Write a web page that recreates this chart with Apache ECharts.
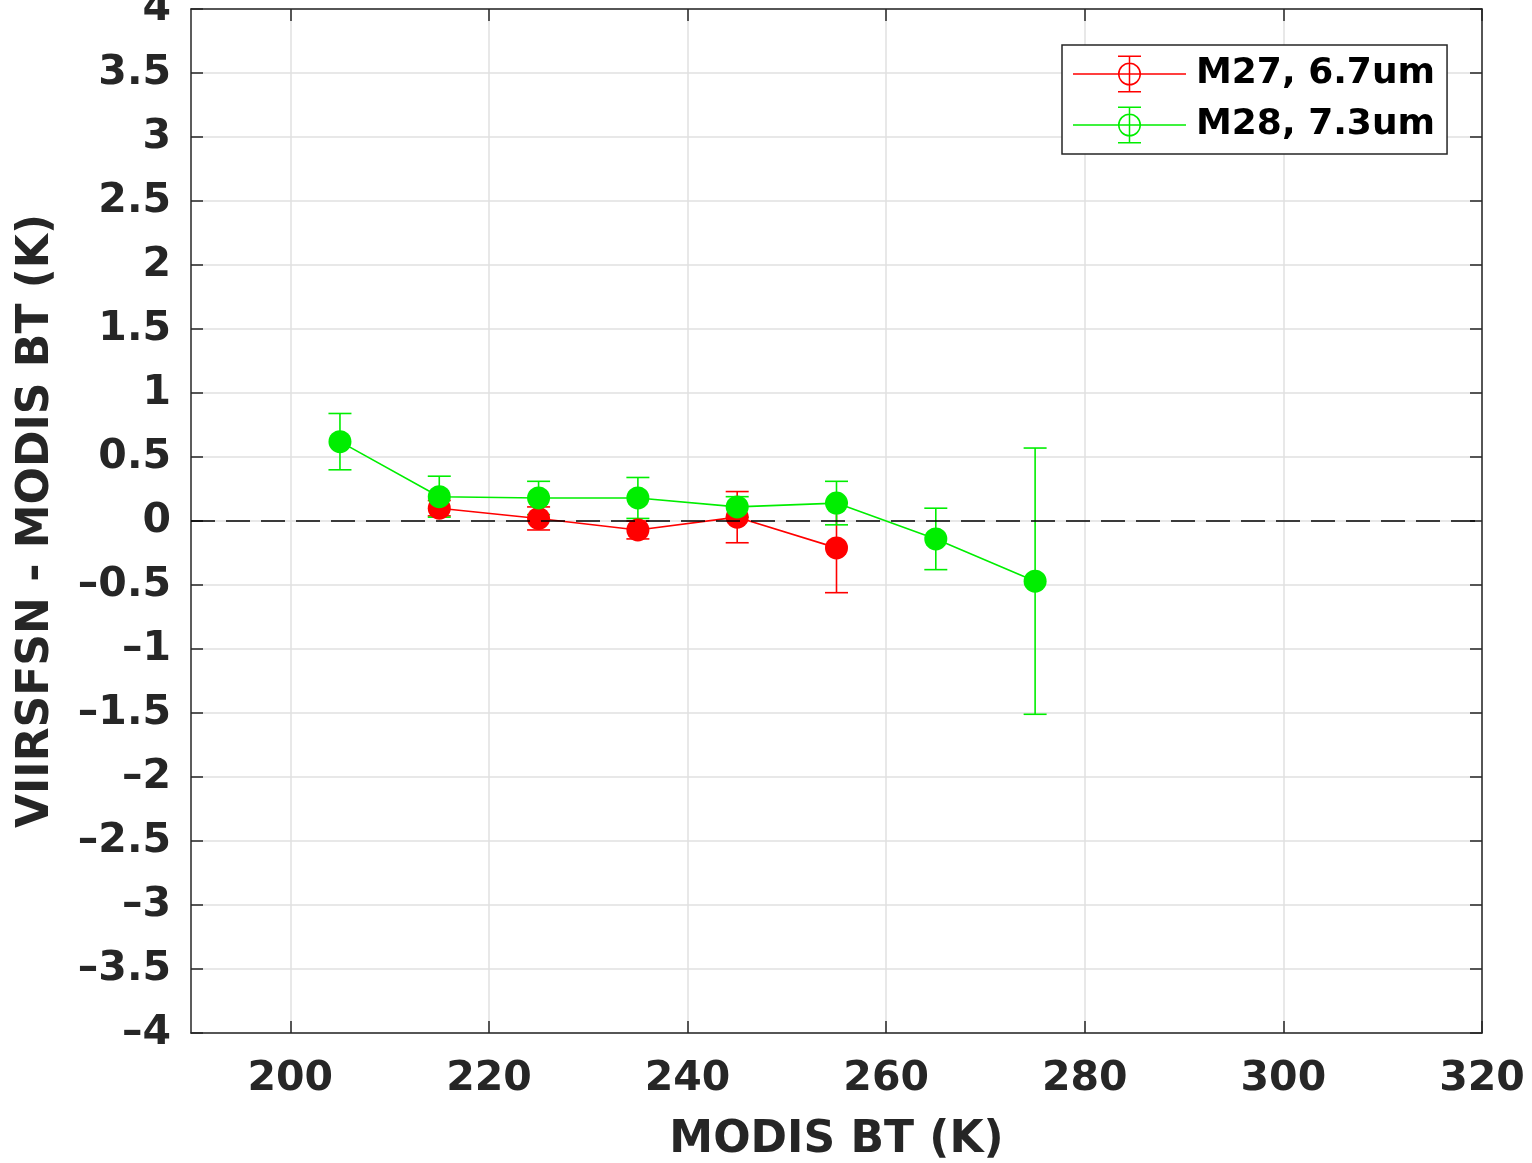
<!DOCTYPE html>
<html>
<head>
<meta charset="utf-8">
<script src="https://cdn.jsdelivr.net/npm/echarts@6/dist/echarts.min.js"></script>
<style>
  html, body { margin: 0; padding: 0; background: #fff; }
  #chart { width: 1532px; height: 1163px; }
</style>
</head>
<body>
<div id="chart"></div>
<script>
// M27 (6.7um) and M28 (7.3um): mean difference and error bar half-width per BT bin
const m27X = [215, 225, 235, 245, 255]
const m27Mean = [0.10, 0.02, -0.07, 0.03, -0.21]
const m27Err = [0.06, 0.09, 0.07, 0.20, 0.35]

const m28X = [205, 215, 225, 235, 245, 255, 265, 275]
const m28Mean = [0.62, 0.19, 0.18, 0.18, 0.11, 0.14, -0.14, -0.47]
const m28Err = [0.22, 0.16, 0.13, 0.16, 0.08, 0.17, 0.24, 1.04]

const xTicks = [200, 220, 240, 260, 280, 300, 320]
const seriesNames = ['M27, 6.7um', 'M28, 7.3um']
const colors = ['#ff0000', '#00ee00']

const FONT = '"DejaVu Sans", sans-serif'
const AXIS_COLOR = '#262626'

// legend icon: line + open circle + error bar
const legendIcon = 'path://M0,17.75H113V19.25H0Z M55.75,0H57.25V37H55.75Z M45,0H68V1.5H45Z M45,35.5H68V37H45Z ' +
  'M68,18.5A11.5,11.5 0 1,1 45,18.5A11.5,11.5 0 1,1 68,18.5Z M66.5,18.5A10,10 0 1,0 46.5,18.5A10,10 0 1,0 66.5,18.5Z'

function points(xs, ys) {
  return xs.map((x, i) => [x, ys[i]])
}
function errRows(xs, ys, es) {
  return xs.map((x, i) => [x, ys[i] - es[i], ys[i] + es[i]])
}

function errorBarSeries(name, color, rows) {
  return {
    name,
    type: 'custom',
    data: rows,
    silent: true,
    itemStyle: { color },
    renderItem(params, api) {
      const lo = api.coord([api.value(0), api.value(1)])
      const hi = api.coord([api.value(0), api.value(2)])
      const w = 11.5
      const style = { stroke: color, lineWidth: 1.6, fill: null }
      return {
        type: 'group',
        children: [
          { type: 'line', shape: { x1: lo[0], y1: lo[1], x2: hi[0], y2: hi[1] }, style },
          { type: 'line', shape: { x1: lo[0] - w, y1: lo[1], x2: lo[0] + w, y2: lo[1] }, style },
          { type: 'line', shape: { x1: hi[0] - w, y1: hi[1], x2: hi[0] + w, y2: hi[1] }, style }
        ]
      }
    }
  }
}

function lineSeries(name, color, data) {
  return {
    name,
    type: 'line',
    data,
    symbol: 'circle',
    symbolSize: 23,
    lineStyle: { color, width: 1.6 },
    itemStyle: { color },
    silent: true
  }
}

const chart = echarts.init(document.getElementById('chart'))

// MATLAB-style short minus
const minus = v => String(v).replace('-', '\u2013')

const option = {
  backgroundColor: '#fff',
  animation: false,
  textStyle: { fontFamily: FONT },
  grid: { left: 191, right: 50, top: 9, bottom: 130, outerBoundsMode: 'none' },
  legend: {
    data: seriesNames.map(n => ({ name: n, icon: legendIcon })),
    orient: 'vertical',
    left: 1062,
    top: 45,
    padding: [10.5, 12, 10.5, 11],
    itemWidth: 113,
    itemHeight: 37,
    itemGap: 14,
    backgroundColor: '#fff',
    borderColor: AXIS_COLOR,
    borderWidth: 1.5,
    borderRadius: 0,
    selectedMode: false,
    itemStyle: { borderWidth: 0 },
    textStyle: { fontFamily: FONT, fontSize: 36, fontWeight: 'bold', color: '#000', padding: [6, 0, 0, 5] }
  },
  xAxis: [
    {
      type: 'value',
      min: 190,
      max: 320,
      name: 'MODIS BT (K)',
      nameLocation: 'middle',
      nameGap: 86,
      nameTextStyle: { fontFamily: FONT, fontSize: 44, fontWeight: 'bold', color: AXIS_COLOR },
      axisLine: { show: true, onZero: false, lineStyle: { color: AXIS_COLOR, width: 1.5 } },
      axisTick: { show: true, inside: true, length: 12, customValues: xTicks, lineStyle: { color: AXIS_COLOR, width: 1.5 } },
      axisLabel: { customValues: xTicks, margin: 26, fontFamily: FONT, fontSize: 41, fontWeight: 'bold', color: AXIS_COLOR },
      splitLine: { show: true, lineStyle: { color: '#e0e0e0', width: 1.5 } }
    },
    {
      type: 'value',
      position: 'top',
      min: 190,
      max: 320,
      axisLine: { show: true, onZero: false, lineStyle: { color: AXIS_COLOR, width: 1.5 } },
      axisTick: { show: true, inside: true, length: 12, customValues: xTicks, lineStyle: { color: AXIS_COLOR, width: 1.5 } },
      axisLabel: { show: false },
      splitLine: { show: false }
    }
  ],
  yAxis: [
    {
      type: 'value',
      min: -4,
      max: 4,
      interval: 0.5,
      name: 'VIIRSFSN - MODIS BT (K)',
      nameLocation: 'middle',
      nameGap: 132,
      nameTextStyle: { fontFamily: FONT, fontSize: 44, fontWeight: 'bold', color: AXIS_COLOR },
      axisLine: { show: true, onZero: false, lineStyle: { color: AXIS_COLOR, width: 1.5 } },
      axisTick: { show: true, inside: true, length: 12, lineStyle: { color: AXIS_COLOR, width: 1.5 } },
      axisLabel: { margin: 20, fontFamily: FONT, fontSize: 41, fontWeight: 'bold', color: AXIS_COLOR, formatter: minus },
      splitLine: { show: true, lineStyle: { color: '#e0e0e0', width: 1.5 } }
    },
    {
      type: 'value',
      position: 'right',
      min: -4,
      max: 4,
      interval: 0.5,
      axisLine: { show: true, onZero: false, lineStyle: { color: AXIS_COLOR, width: 1.5 } },
      axisTick: { show: true, inside: true, length: 12, lineStyle: { color: AXIS_COLOR, width: 1.5 } },
      axisLabel: { show: false },
      splitLine: { show: false }
    }
  ],
  series: [
    {
      name: 'zero',
      type: 'line',
      data: [],
      silent: true,
      markLine: {
        silent: true,
        symbol: 'none',
        label: { show: false },
        lineStyle: { color: '#000', type: [24, 11], width: 1.6 },
        data: [{ yAxis: 0 }]
      }
    },
    errorBarSeries(seriesNames[0], colors[0], errRows(m27X, m27Mean, m27Err)),
    lineSeries(seriesNames[0], colors[0], points(m27X, m27Mean)),
    errorBarSeries(seriesNames[1], colors[1], errRows(m28X, m28Mean, m28Err)),
    lineSeries(seriesNames[1], colors[1], points(m28X, m28Mean))
  ]
}

chart.setOption(option)
</script>
</body>
</html>
